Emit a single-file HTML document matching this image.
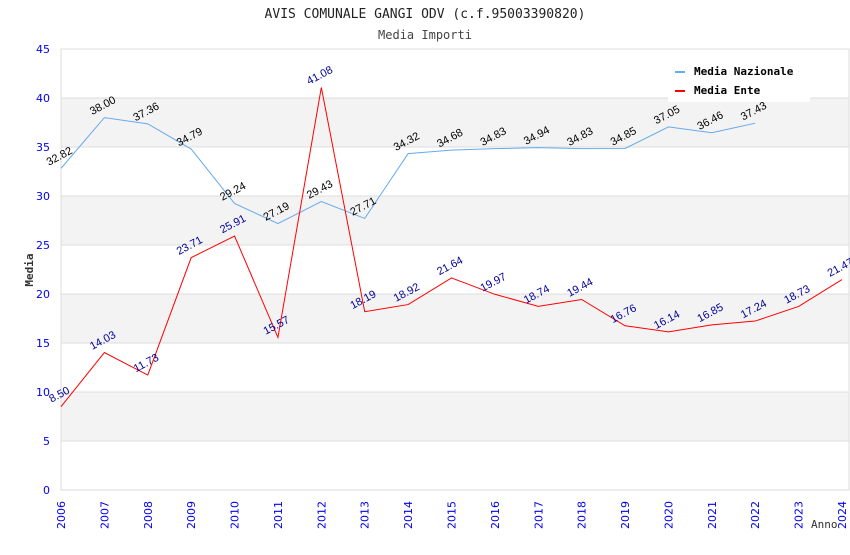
<!DOCTYPE html>
<html><head><meta charset="utf-8"><style>
body{margin:0;background:#fff;}
svg text{font-family:"DejaVu Sans Mono","Liberation Mono",monospace;}
svg text.sans{font-family:"Liberation Sans",sans-serif;}
svg text.dsans{font-family:"DejaVu Sans","Liberation Sans",sans-serif;}
</style></head><body>
<svg id="chart" width="850" height="550" xmlns="http://www.w3.org/2000/svg">
<text x="425" y="18" text-anchor="middle" font-size="13" fill="#222">AVIS COMUNALE GANGI ODV (c.f.95003390820)</text>
<text x="425" y="39" text-anchor="middle" font-size="12" fill="#444">Media Importi</text>
<g id="grid"></g>
<g id="axes"></g>
<g id="series"></g>
<text transform="translate(33,270) rotate(-90)" text-anchor="middle" font-size="11" font-weight="bold" fill="#333">Media</text>
<text x="811" y="528" font-size="11" fill="#333">Anno</text>
<g>
<rect x="668" y="60" width="142" height="42" fill="#fff"/>
<rect x="675" y="71" width="10" height="2" fill="#66aaee"/>
<text x="694" y="75" font-size="11" font-weight="bold" fill="#000">Media Nazionale</text>
<rect x="675" y="90" width="10" height="2" fill="#ff0000"/>
<text x="694" y="94" font-size="11" font-weight="bold" fill="#000">Media Ente</text>
</g>
</svg>
<script>
const years=[2006,2007,2008,2009,2010,2011,2012,2013,2014,2015,2016,2017,2018,2019,2020,2021,2022,2023,2024];
const nazionale=[32.82,38.00,37.36,34.79,29.24,27.19,29.43,27.71,34.32,34.68,34.83,34.94,34.83,34.85,37.05,36.46,37.43];
const ente=[8.50,14.03,11.73,23.71,25.91,15.57,41.08,18.19,18.92,21.64,19.97,18.74,19.44,16.76,16.14,16.85,17.24,18.73,21.47];
const yTicks=[0,5,10,15,20,25,30,35,40,45];
const NS="http://www.w3.org/2000/svg";
const X0=61,X1=842,Y0=490,Y1=49,YMAX=45;
function xs(i){return X0+(X1-X0)*i/(years.length-1);}
function ys(v){return Y0-(Y0-Y1)*v/YMAX;}
function mk(tag,attrs,parent){const e=document.createElementNS(NS,tag);for(const k in attrs)e.setAttribute(k,attrs[k]);parent.appendChild(e);return e;}
const grid=document.getElementById('grid'),axes=document.getElementById('axes'),ser=document.getElementById('series');
for(let i=0;i<yTicks.length-1;i++){
  if(i%2===1){const r=mk('rect',{x:X0,y:ys(yTicks[i+1]),width:849-X0,height:ys(yTicks[i])-ys(yTicks[i+1]),fill:'#f3f3f3'},grid);
  
  }
}
yTicks.forEach(t=>{
  const l=mk('line',{x1:X0,x2:849,y1:ys(t),y2:ys(t),stroke:'#ddd','stroke-width':1},grid);
  
  
  const tx=mk('text',{x:50,y:ys(t)+4,'text-anchor':'end','font-size':'11',fill:'#0000ee','class':'dsans'},axes);
  tx.textContent=t;
  
  
});
const fr=mk('rect',{x:X0,y:Y1,width:849-X0,height:Y0-Y1,fill:'none',stroke:'#ddd'},axes);


years.forEach((yr,i)=>{
  const tx=mk('text',{transform:`translate(${xs(i)+4},${529}) rotate(-90)`,'font-size':'11',fill:'#0000ee','class':'dsans'},axes);
  tx.textContent=yr;
  
  
});
function drawSeries(vals,color,lblColor,name){
  const pts=vals.map((v,i)=>xs(i)+','+ys(v)).join(' ');
  const pl=mk('polyline',{points:pts,fill:'none',stroke:color,'stroke-width':1},ser);
  
  
  vals.forEach((v,i)=>{
    const t=mk('text',{transform:`translate(${xs(i)},${ys(v)-9}) rotate(-28)`,'text-anchor':'middle','font-size':'11',fill:lblColor,'class':'sans'},ser);
    t.textContent=v.toFixed(2);
    
    
  });
}
drawSeries(nazionale,'#66aaee','#000','nazionale');
drawSeries(ente,'#ff0000','#000099','ente');
</script>
</body></html>
